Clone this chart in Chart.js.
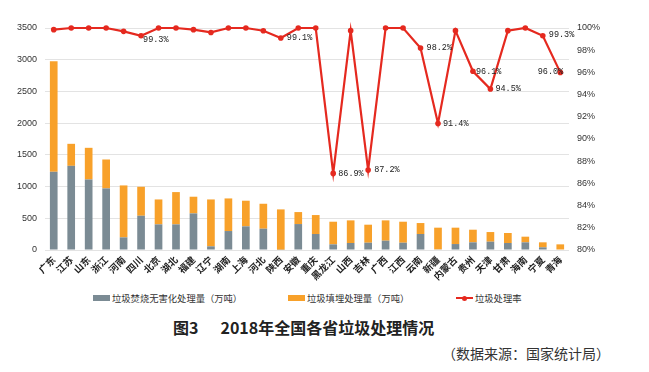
<!DOCTYPE html>
<html><head><meta charset="utf-8">
<script src="https://cdn.jsdelivr.net/npm/chart.js@4"></script>
<style>
html,body{margin:0;padding:0;background:#fff;}
#wrap{position:relative;width:649px;height:372px;overflow:hidden;font-family:"Noto Sans CJK SC","Noto Sans",sans-serif;}
#c{position:absolute;left:0;top:0;}
.lg{position:absolute;font-size:9.3px;color:#333;line-height:12px;top:292px;white-space:nowrap;}
.box{position:absolute;width:17px;height:6px;top:295px;}
#title{position:absolute;top:316px;left:173px;font-size:16px;font-weight:bold;color:#222;white-space:nowrap;line-height:22px;}
#src{position:absolute;top:343px;left:442px;font-size:14px;color:#333;white-space:nowrap;line-height:20px;}
</style></head>
<body><div id="wrap">
<canvas id="c" width="649" height="290"></canvas>
<div class="box" style="left:93px;background:#7b8b94"></div>
<div class="lg" style="left:112px">垃圾焚烧无害化处理量（万吨）</div>
<div class="box" style="left:288px;background:#f8a12a"></div>
<div class="lg" style="left:307px">垃圾填埋处理量（万吨）</div>
<div style="position:absolute;left:456px;top:297px;width:17px;height:2px;background:#e5291f"></div>
<div style="position:absolute;left:462px;top:295.5px;width:5px;height:5px;border-radius:50%;background:#e5291f"></div>
<div class="lg" style="left:475px">垃圾处理率</div>
<div id="title">图3<span style="margin-left:22px">2018年全国各省垃圾处理情况</span></div>
<div id="src">（数据来源：国家统计局）</div>
</div>
<script>
const categories = ['广东','江苏','山东','浙江','河南','四川','北京','湖北','福建','辽宁','湖南','上海','河北','陕西','安徽','重庆','黑龙江','山西','吉林','广西','江西','云南','新疆','内蒙古','贵州','天津','甘肃','海南','宁夏','青海'];
const incineration = [1233,1327,1112,971,199,540,404,404,577,58,299,373,336,5,409,252,89,110,115,147,115,252,10,94,121,131,110,121,42,0];
const landfill = [1742,347,499,456,819,457,393,509,263,739,514,404,393,635,189,299,357,357,284,320,331,173,342,258,199,152,158,89,79,89];
const rate = [99.85,100,100,100,99.7,99.3,100,100,99.85,99.6,100,100,99.75,99.1,100,100,86.9,99.76,87.2,100,100,98.2,91.4,99.76,96.1,94.5,99.76,100,99.3,96.0];
const leftTicks = [0,500,1000,1500,2000,2500,3000,3500];
const rightTicks = [80,82,84,86,88,90,92,94,96,98,100];
const labelledIdx = [5,13,16,18,21,22,24,25,28,29];

const labelStyle = {
  5:{dx:2,dy:4,align:'left'}, 13:{dx:6,dy:0,align:'left'}, 16:{dx:5,dy:0,align:'left'},
  18:{dx:6,dy:0,align:'left'}, 21:{dx:6,dy:0,align:'left'}, 22:{dx:5,dy:0,align:'left'},
  24:{dx:3,dy:0,align:'left'}, 25:{dx:5,dy:0,align:'left'}, 28:{dx:6,dy:-1,align:'left'},
  29:{dx:3,dy:-1,align:'right'}
};

const pointLabels = {
  id:'pointLabels',
  afterDatasetsDraw(chart){
    const meta = chart.getDatasetMeta(0);
    const ctx = chart.ctx;
    ctx.save();
    ctx.font = '8.5px "Liberation Mono", monospace';
    ctx.fillStyle = '#222';
    ctx.textBaseline = 'middle';
    labelledIdx.forEach(i=>{
      const p = meta.data[i];
      const s = labelStyle[i];
      ctx.textAlign = s.align;
      ctx.fillText(rate[i].toFixed(1)+'%', p.x + s.dx, p.y + s.dy);
    });
    ctx.restore();
  }
};

new Chart(document.getElementById('c'), {
  data:{
    labels: categories,
    datasets:[
      {type:'line', label:'垃圾处理率', data:rate, yAxisID:'y1', borderColor:'#e5291f', backgroundColor:'#e5291f',
       borderWidth:2.2, pointRadius:2.8, pointBorderWidth:0, pointBackgroundColor:'#e5291f', tension:0, clip:false, order:0},
      {type:'bar', label:'垃圾焚烧无害化处理量（万吨）', data:incineration, yAxisID:'y', backgroundColor:'#7b8b94',
       stack:'s', barPercentage:1, categoryPercentage:0.44, order:1},
      {type:'bar', label:'垃圾填埋处理量（万吨）', data:landfill, yAxisID:'y', backgroundColor:'#f8a12a',
       stack:'s', barPercentage:1, categoryPercentage:0.44, order:1}
    ]
  },
  options:{
    responsive:false, animation:false, devicePixelRatio:1,
    layout:{padding:{top:28,left:0,right:0,bottom:0}},
    plugins:{legend:{display:false}, tooltip:{enabled:false}},
    scales:{
      x:{stacked:true, grid:{display:false, drawTicks:false}, border:{display:false},
         ticks:{minRotation:45, maxRotation:45, autoSkip:false, padding:4, color:'#222',
                font:{family:'"Noto Sans CJK SC", sans-serif', size:9.5, weight:'bold'}},
         afterFit(s){ s.height = 40; }},
      y:{position:'left', stacked:true, min:0, max:3500, 
         afterBuildTicks(s){ s.ticks = leftTicks.map(v=>({value:v})); },
         grid:{color:'#e3e3e3', lineWidth:1, drawTicks:false}, border:{display:false},
         ticks:{padding:8, color:'#333', callback:v=>String(v), font:{family:'"Liberation Sans", Arial, sans-serif', size:9}},
         afterFit(s){ s.width = 45; }},
      y1:{position:'right', min:80, max:100,
         afterBuildTicks(s){ s.ticks = rightTicks.map(v=>({value:v})); },
         grid:{display:false, drawTicks:false}, border:{display:false},
         ticks:{padding:8, color:'#333', callback:v=>v+'%', font:{family:'"Liberation Sans Narrow","Liberation Sans", sans-serif', size:9}},
         afterFit(s){ s.width = 80; }}
    }
  },
  plugins:[pointLabels]
});
</script>
</body></html>
